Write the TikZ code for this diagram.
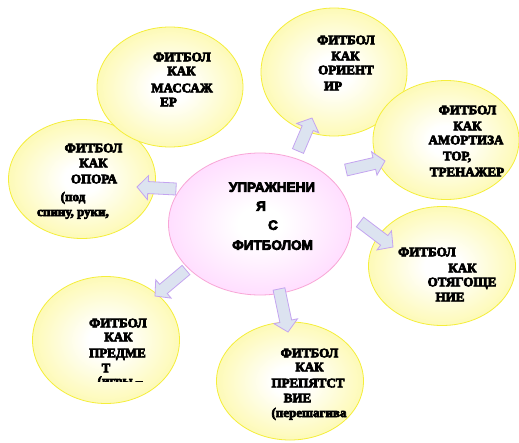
\documentclass[tikz,border=0pt]{standalone}
\usepackage{fontspec}
\setmainfont{Liberation Serif}
\newfontfamily\ctrfont{Liberation Sans}
\usetikzlibrary{calc,shapes.geometric}
\definecolor{yedge}{HTML}{FCF67E}
\definecolor{yline}{HTML}{F5EE3A}
\definecolor{pedge}{HTML}{FFC4FF}
\definecolor{pline}{HTML}{F8A6D6}
\definecolor{afill}{HTML}{DCE3F0}
\definecolor{aline}{HTML}{C4A4F0}
\newcommand\hvtext[1]{\special{pdf:literal direct 2 Tr 0.7 w 0 G}#1\special{pdf:literal direct 0 Tr}}
\pgfdeclareradialshading{yelshade}{\pgfpoint{0bp}{0bp}}{color(0bp)=(white); color(6bp)=(white); color(40bp)=(yedge); color(50bp)=(yedge); color(100bp)=(yedge)}
\pgfdeclareradialshading{pinkshade}{\pgfpoint{0bp}{0bp}}{color(0bp)=(white); color(6bp)=(white); color(40bp)=(pedge); color(50bp)=(pedge); color(100bp)=(pedge)}
\tikzset{
  yel/.style={ellipse, draw=yline, line width=0.8pt, shading=yelshade, inner sep=0pt},
  pnk/.style={ellipse, draw=pline, line width=0.8pt, shading=pinkshade, inner sep=0pt},
  lbl/.style={font=\fontsize{13}{15}\selectfont\bfseries, inner sep=0pt, anchor=base},
  clbl/.style={font=\ctrfont\fontsize{13.5}{16}\selectfont\bfseries, inner sep=0pt, anchor=base},
  arr/.style={draw=aline, fill=afill, line width=0.8pt, line join=miter}
}
\newcommand\blockarr[3]{%
  \coordinate (#3) at ($(#2)!11pt!(#1)$);
  \draw[arr] ($(#1)!6pt!90:(#2)$) -- ($(#3)!6pt!90:(#2)$) -- ($(#3)!12pt!90:(#2)$) -- (#2)
    -- ($(#3)!12pt!-90:(#2)$) -- ($(#3)!6pt!-90:(#2)$) -- ($(#1)!6pt!-90:(#2)$) -- cycle;}
\begin{document}
\begin{tikzpicture}[x=1pt,y=-1pt]
\useasboundingbox[fill=white] (0,0) rectangle (519,442);
% ellipses
\node[yel, minimum width=147pt, minimum height=119pt] (opo) at (82,179) {};
\node[yel, minimum width=146pt, minimum height=120pt] (mas) at (170,87) {};
\node[yel, minimum width=146pt, minimum height=128pt] (ori) at (334,72) {};
\node[yel, minimum width=146pt, minimum height=119pt] (amo) at (446,140) {};
\node[yel, minimum width=147pt, minimum height=119pt] (oty) at (442,266) {};
\node[yel, minimum width=147pt, minimum height=127pt] (pre) at (106,340) {};
\node[yel, minimum width=147pt, minimum height=118pt] (prp) at (290,381) {};
\node[pnk, minimum width=183pt, minimum height=142pt] (ctr) at (260,224) {};
% texts: massager
\node[lbl] (mas1) at (182,61.3) {\hvtext{ФИТБОЛ}};
\node[lbl] (mas2) at (181.5,75.3) {\hvtext{КАК}};
\node[lbl] (mas3) at (182,92.3) {\hvtext{МАССАЖ}};
\node[lbl] (mas4) at (168.5,106.3) {\hvtext{ЕР}};
% opora
\node[lbl] (opo1) at (93.5,152.3) {\hvtext{ФИТБОЛ}};
\node[lbl] (opo2) at (93.5,167.3) {\hvtext{КАК}};
\node[lbl] (opo3) at (94,183.3) {\hvtext{ОПОРА}};
\node[lbl] (opo4) at (73,201) {\hvtext{(под}};
\node[lbl] (opo5) at (73,216) {\hvtext{спину, руки,}};
% orientir
\node[lbl] (ori1) at (346,44.3) {\hvtext{ФИТБОЛ}};
\node[lbl] (ori2) at (345.5,60.3) {\hvtext{КАК}};
\node[lbl] (ori3) at (346,74.3) {\hvtext{ОРИЕНТ}};
\node[lbl] (ori4) at (333,90.3) {\hvtext{ИР}};
% amortizator
\node[lbl] (amo1) at (467.5,114.3) {\hvtext{ФИТБОЛ}};
\node[lbl] (amo2) at (467.5,130.3) {\hvtext{КАК}};
\node[lbl] (amo3) at (466,144.3) {\hvtext{АМОРТИЗА}};
\node[lbl] (amo4) at (457,160.3) {\hvtext{ТОР,}};
\node[lbl] (amo5) at (467,176.3) {\hvtext{ТРЕНАЖЕР}};
% center
\node[clbl] (ctr1) at (272,191.8) {\hvtext{УПРАЖНЕНИ}};
\node[clbl] (ctr2) at (261,210.8) {\hvtext{Я}};
\node[clbl] (ctr3) at (273,229.8) {\hvtext{С}};
\node[clbl] (ctr4) at (272.5,249.8) {\hvtext{ФИТБОЛОМ}};
% otyagoshenie
\node[lbl] (oty1) at (427,256.3) {\hvtext{ФИТБОЛ}};
\node[lbl] (oty2) at (462.5,272.3) {\hvtext{КАК}};
\node[lbl] (oty3) at (462,286.3) {\hvtext{ОТЯГОЩЕ}};
\node[lbl] (oty4) at (450,301.3) {\hvtext{НИЕ}};
% prepyatstvie
\node[lbl] (prp1) at (309.5,357.3) {\hvtext{ФИТБОЛ}};
\node[lbl] (prp2) at (309.5,371.3) {\hvtext{КАК}};
\node[lbl] (prp3) at (308,387.3) {\hvtext{ПРЕПЯТСТ}};
\node[lbl] (prp4) at (297.5,402.3) {\hvtext{ВИЕ}};
\node[lbl] (prp5) at (309,417) {\hvtext{(перешагива}};
% predmet
\node[lbl] (pre1) at (118,327.3) {\hvtext{ФИТБОЛ}};
\node[lbl] (pre2) at (118.5,341.3) {\hvtext{КАК}};
\node[lbl] (pre3) at (117.5,357.3) {\hvtext{ПРЕДМЕ}};
\node[lbl] (pre4) at (106,372.3) {\hvtext{Т}};
\begin{scope}
  \clip (90,376) rectangle (150,381);
  \node[lbl] (pre5) at (120,385) {\hvtext{(игры –}};
\end{scope}
% arrows
\coordinate (t1) at (176,189); \coordinate (p1) at (137,187);
\coordinate (t2) at (298,151); \coordinate (p2) at (312,118);
\coordinate (t3) at (346,170); \coordinate (p3) at (385,161);
\coordinate (t4) at (360,222); \coordinate (p4) at (393,247);
\coordinate (t5) at (279,289); \coordinate (p5) at (288,332);
\coordinate (t6) at (186,270); \coordinate (p6) at (155,296);
\blockarr{t1}{p1}{h1}
\blockarr{t2}{p2}{h2}
\blockarr{t3}{p3}{h3}
\blockarr{t4}{p4}{h4}
\blockarr{t5}{p5}{h5}
\blockarr{t6}{p6}{h6}
\end{tikzpicture}
\end{document}
